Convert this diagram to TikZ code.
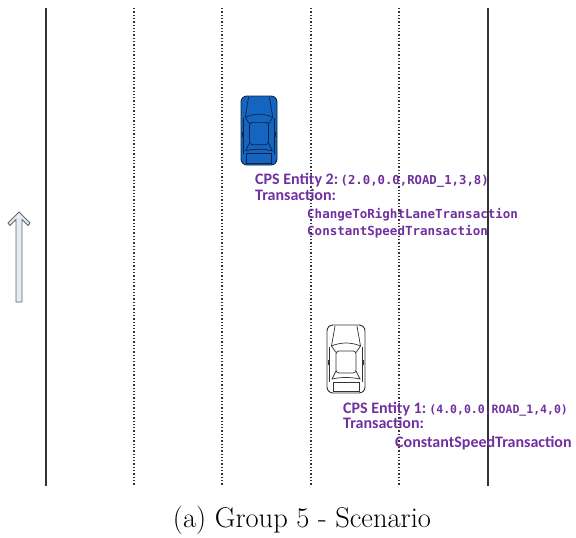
\documentclass[tikz,border=0pt]{standalone}
\usepackage{fontspec}
\newfontfamily\labelsans{Carlito}
\newfontfamily\labelmono{DejaVu Sans Mono}
\definecolor{entity}{HTML}{7030A0}
\definecolor{carblue}{HTML}{1565C0}
\definecolor{carnavy}{HTML}{0B2545}
\definecolor{lanegray}{HTML}{333333}
\definecolor{arrowfill}{HTML}{E6ECF2}
\definecolor{arrowline}{HTML}{5F6870}

\tikzset{
  laneedge/.style={draw=lanegray, line width=1.5pt},
  lanemark/.style={draw=lanegray, line width=1.3pt, dotted},
  sanslabel/.style={anchor=base west, inner sep=0pt, text=entity,
    font=\labelsans\bfseries\fontsize{16}{19}\selectfont},
  monolabel/.style={anchor=base west, inner sep=0pt, text=entity,
    font=\labelmono\bfseries\fontsize{12.5}{15}\selectfont},
  pics/car/.style 2 args={code={
    % body outline
    \path[fill=#1, draw=#2, line width=0.9pt, rounded corners=6pt]
      (0,0) rectangle (38,68);
    \begin{scope}[draw=#2, line width=0.7pt]
      % bonnet edges
      \draw (8,1) -- (4.5,21);
      \draw (30,1) -- (33.5,21);
      % windscreen
      \draw (9,27.5) -- (4.5,21) .. controls (14,17) and (24,17) .. (33.5,21) -- (29,27.5);
      % roof
      \draw[rounded corners=3pt] (9,26) rectangle (29,48);
      % rear window
      \draw (9,46) -- (5,54) .. controls (14,52) and (24,52) .. (33,54) -- (29,46);
      % door sills
      \draw (2.5,22) -- (2.5,57);
      \draw (35.5,22) -- (35.5,57);
      % boot lid
      \draw (6,57) rectangle (32,66);
      % mirrors
      \fill[#2] (1.2,35) rectangle (3.2,40);
      \fill[#2] (34.8,35) rectangle (36.8,40);
    \end{scope}
  }}
}

\begin{document}
\begin{tikzpicture}[x=1pt, y=-1pt]
  \useasboundingbox (0,0) rectangle (576,538);

  % road edges and lane markings
  \draw[laneedge] (46,8) -- (46,486);
  \draw[laneedge] (488,8) -- (488,486);
  \foreach \lx in {134,222,311,399}
    \draw[lanemark] (\lx,8) -- (\lx,486);

  % direction of travel
  \draw[draw=arrowline, fill=arrowfill, line width=0.9pt, line join=miter]
    (19,212) -- (30,223) -- (28,225.5) -- (22,219.5) -- (22,302)
    -- (16,302) -- (16,219.5) -- (10,225.5) -- (8,223) -- cycle;

  % vehicles
  \pic[xscale=36/38, yscale=69/68] (car2) at (241,96) {car={carblue}{carnavy}};
  \pic (car1) at (327,325) {car={white}{black!80}};

  % entity 2 labels
  \node[sanslabel] (e2head) at (255,184)
    {CPS Entity 2:\hspace{0.15em}{\labelmono\fontsize{12.3}{15}\selectfont(2.0,0.0,ROAD\_1,3,8)}};
  \node[sanslabel] (e2trans) at (255,200) {Transaction:};
  \node[monolabel] (e2first) at (307,218) {ChangeToRightLaneTransaction};
  \node[monolabel] (e2second) at (307,235) {ConstantSpeedTransaction};

  % entity 1 labels
  \node[sanslabel] (e1head) at (343,413)
    {CPS Entity 1:\hspace{0.2em}{\labelmono\fontsize{11.5}{15}\selectfont(4.0,0.0,ROAD\_1,4,0)}};
  \node[sanslabel] (e1trans) at (343,428) {Transaction:};
  \node[sanslabel] (e1first) at (395,447) {ConstantSpeedTransaction};

  % caption
  \node[anchor=base, inner sep=0pt, font=\fontsize{28.5}{34}\selectfont]
    (caption) at (302,527) {(a) Group 5 - Scenario};
\end{tikzpicture}
\end{document}
